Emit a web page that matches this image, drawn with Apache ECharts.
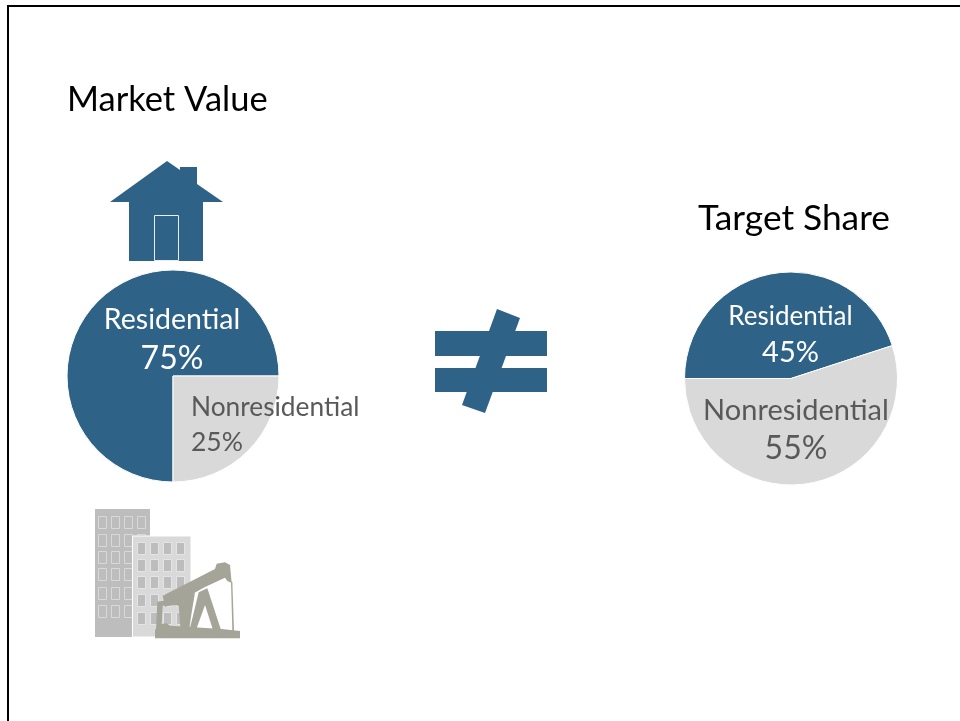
<!DOCTYPE html>
<html><head><meta charset="utf-8">
<style>html,body{margin:0;padding:0;background:#fff}#c{width:960px;height:721px}</style>
<script src="https://cdn.jsdelivr.net/npm/echarts@6/dist/echarts.min.js"></script></head>
<body><div id="c"></div>
<script>
const categories = ['Residential', 'Nonresidential'];
const marketValue = [75, 25];
const targetShare = [45, 55];
const chartTitles = ['Market Value', 'Target Share'];

const BLUE = '#2E6287', GREY = '#D9D9D9', FONT = 'Lato, "Open Sans", sans-serif';
const chart = echarts.init(document.getElementById('c'), null, {renderer: 'canvas'});

function labelled(values, styles) {
  return categories.map((name, i) => ({
    name, value: values[i],
    itemStyle: {color: i === 0 ? BLUE : GREY, borderColor: '#fff', borderWidth: 1},
    label: {
      show: true, position: 'inside', align: styles[i].align,
      formatter: '{n|{b}}\n{v|{c}%}',
      rich: {
        n: {fontFamily: FONT, fontSize: styles[i].n, lineHeight: styles[i].lh, color: styles[i].color, align: styles[i].align},
        v: {fontFamily: FONT, fontSize: styles[i].v, lineHeight: styles[i].lh, color: styles[i].color, align: styles[i].align}
      }
    }
  }));
}
const layoutFrom = styles => params => ({
  x: styles[params.dataIndex].x, y: styles[params.dataIndex].y,
  align: styles[params.dataIndex].align, verticalAlign: 'middle', hideOverlap: false
});

function rects(list, fill, stroke) {
  return list.map(r => ({type: 'rect', shape: {x: r[0], y: r[1], width: r[2], height: r[3]},
    style: {fill, stroke, lineWidth: 1}, silent: true}));
}
const win1 = [], win2 = [];
[98, 111, 124, 137].forEach(x => [516, 534, 551, 568, 587, 605].forEach(y => win1.push([x + .5, y + .5, 8, 12])));
[137, 150, 163, 176].forEach(x => [542, 559, 576, 594, 612].forEach(y => win2.push([x + .5, y + .5, 8, 12])));

// decorative pump-jack icon, in crop units (3x, origin 150,555)
const pumpParts = [
  [[15,250],[270,250],[270,228],[215,222],[60,212],[50,205],[30,208],[15,225]],
  [[38,122],[195,42],[200,26],[225,22],[240,30],[245,84],[232,78],[225,68],[165,96],[100,132],[45,156]],
  [[22,140],[100,128],[108,228],[92,228],[86,150],[38,152],[34,225],[18,225]],
  [[100,130],[135,112],[116,228],[104,228]],
  [[146,112],[172,100],[214,228],[190,228],[165,150],[137,228],[118,228]],
  [[243,80],[247,80],[252,228],[247,228]]
];
const toScreen = p => [150 + p[0] / 3, 555 + p[1] / 3];

const leftLabels = [
  {x: 172, y: 339.5, align: 'center', n: 28.5, v: 32, lh: 39, color: '#fff'},
  {x: 191, y: 425, align: 'left', n: 26.3, v: 26.5, lh: 34, color: '#595959'}
];
const rightLabels = [
  {x: 790.5, y: 335, align: 'center', n: 26, v: 29, lh: 36, color: '#fff'},
  {x: 796, y: 430, align: 'center', n: 29, v: 32, lh: 38, color: '#595959'}
];

chart.setOption({
  animation: false,
  backgroundColor: '#fff',
  title: [
    {text: chartTitles[0], left: 67, top: 82.5, padding: 0, textStyle: {fontFamily: FONT, fontSize: 34.5, fontWeight: 'normal', color: '#000'}},
    {text: chartTitles[1], left: 698, top: 201.5, padding: 0, textStyle: {fontFamily: FONT, fontSize: 35.3, fontWeight: 'normal', color: '#000'}}
  ],
  series: [
    {type: 'pie', center: [173, 376], radius: [0, 106], startAngle: 270, clockwise: true, silent: true,
     labelLine: {show: false}, labelLayout: layoutFrom(leftLabels),
     data: labelled(marketValue, leftLabels)},
    {type: 'pie', center: [791, 378.5], radius: [0, 106.5], startAngle: 180, clockwise: true, silent: true,
     labelLine: {show: false}, labelLayout: layoutFrom(rightLabels),
     data: labelled(targetShare, rightLabels)}
  ],
  graphic: {elements: [
    {type: 'polyline', shape: {points: [[8, 721], [8, 6], [960, 6]]}, style: {stroke: '#000', lineWidth: 2, fill: null}, silent: true},
    {type: 'polygon', shape: {points: [[110, 202], [167, 161], [180, 170], [180, 167], [197, 167], [197, 184], [223, 202], [203, 202], [203, 261], [129, 261], [129, 202]]},
      style: {fill: BLUE}, silent: true},
    {type: 'rect', shape: {x: 154.5, y: 215.5, width: 24, height: 45}, style: {fill: BLUE, stroke: '#E8EEF3', lineWidth: 1}, silent: true},
    {type: 'rect', shape: {x: 435, y: 331, width: 112, height: 25}, style: {fill: BLUE}, silent: true},
    {type: 'rect', shape: {x: 435, y: 368, width: 112, height: 24}, style: {fill: BLUE}, silent: true},
    {type: 'polygon', shape: {points: [[497, 309], [520, 318], [485, 413], [462, 405]]}, style: {fill: BLUE}, silent: true},
    {type: 'rect', shape: {x: 95, y: 509, width: 55, height: 128}, style: {fill: '#BDBDBD'}, silent: true},
    ...rects(win1, '#BDBDBD', '#D9D9D9'),
    {type: 'rect', shape: {x: 132.5, y: 536, width: 58.5, height: 101}, style: {fill: GREY, stroke: '#fff', lineWidth: 1}, silent: true},
    ...rects(win2, '#BDBDBD', '#E4E4E4'),
    ...pumpParts.map(part => ({type: 'polygon', shape: {points: part.map(toScreen)}, style: {fill: '#A5A498'}, silent: true}))
  ]}
});
</script></body></html>
